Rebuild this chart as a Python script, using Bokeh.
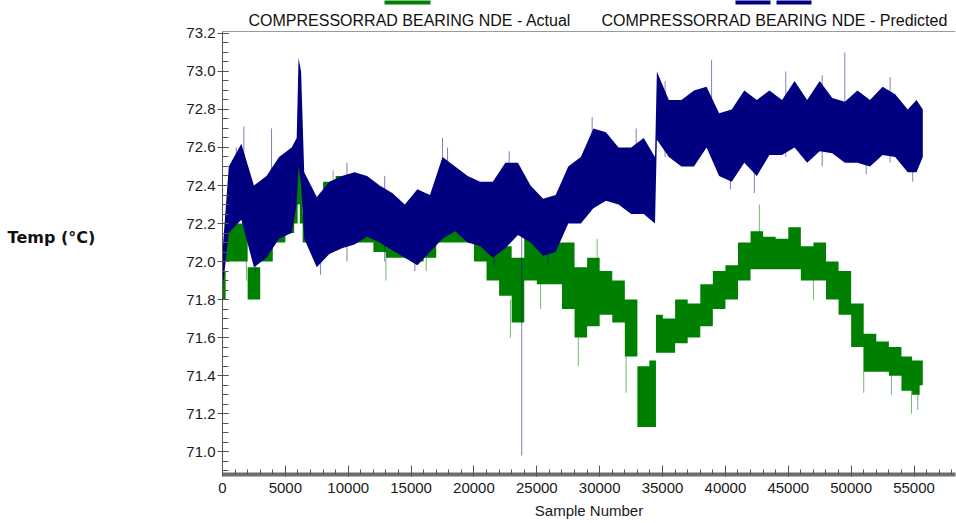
from bokeh.plotting import figure
from bokeh.models import ColumnDataSource, Label, BoxAnnotation, FixedTicker, Range1d, Span
from bokeh.embed import file_html
from bokeh.resources import INLINE
import numpy as np

# ---------------- data ----------------
sample_x = [0, 500, 1500, 2500, 3500, 4500, 5500, 5900, 6050, 6250, 6500, 7500,
            8500, 9500, 10500, 11500, 12500, 13500, 14500, 15500, 16500, 17500,
            18500, 19500, 20500, 21500, 22500, 23500, 24500, 25500, 26500, 27500,
            28500, 29500, 30500, 31500, 32500, 33500, 34400, 34550, 35500, 36500,
            37500, 38500, 39500, 40500, 41500, 42500, 43500, 44500, 45500, 46500,
            47500, 48500, 49500, 50500, 51500, 52500, 53500, 54500, 55200, 55700]

pred_lo = [71.85, 72.15, 72.22, 71.97, 72.02, 72.12, 72.15, 72.30, 72.50, 72.40, 72.12, 71.97,
           72.04, 72.07, 72.09, 72.13, 72.10, 72.06, 72.02, 71.98, 72.05, 72.12,
           72.16, 72.10, 72.08, 72.02, 72.07, 72.14, 72.10, 72.03, 72.05, 72.20,
           72.20, 72.28, 72.32, 72.30, 72.25, 72.25, 72.20, 72.64, 72.55, 72.50,
           72.50, 72.60, 72.45, 72.42, 72.52, 72.45, 72.56, 72.56, 72.60, 72.52,
           72.58, 72.57, 72.52, 72.52, 72.50, 72.56, 72.55, 72.47, 72.47, 72.55]
pred_hi = [72.05, 72.50, 72.62, 72.40, 72.45, 72.55, 72.60, 72.65, 73.07, 73.00, 72.47, 72.34,
           72.42, 72.45, 72.47, 72.45, 72.40, 72.36, 72.30, 72.38, 72.35, 72.55,
           72.50, 72.45, 72.42, 72.42, 72.52, 72.52, 72.40, 72.33, 72.35, 72.50,
           72.55, 72.70, 72.68, 72.60, 72.60, 72.65, 72.55, 73.00, 72.85, 72.85,
           72.90, 72.92, 72.78, 72.80, 72.90, 72.85, 72.90, 72.85, 72.95, 72.85,
           72.95, 72.86, 72.84, 72.90, 72.85, 72.92, 72.88, 72.80, 72.85, 72.80]

act_lo = [71.80, 72.00, 72.00, 71.80, 72.00, 72.10, 72.15, 72.20, 72.30, 72.20, 72.10, 72.10,
          72.20, 72.20, 72.10, 72.10, 72.05, 72.02, 72.02, 72.00, 72.02, 72.10,
          72.10, 72.10, 72.00, 71.90, 71.82, 71.68, 71.90, 71.88, 71.88, 71.75,
          71.60, 71.66, 71.72, 71.68, 71.50, 71.13, 71.13, 71.52, 71.52, 71.57,
          71.60, 71.66, 71.75, 71.80, 71.90, 71.96, 71.96, 71.96, 71.96, 71.90,
          71.90, 71.80, 71.72, 71.55, 71.42, 71.42, 71.40, 71.32, 71.30, 71.35]
act_hi = [71.95, 72.20, 72.20, 71.97, 72.12, 72.25, 72.25, 72.45, 72.71, 72.60, 72.25, 72.20,
          72.42, 72.45, 72.42, 72.25, 72.20, 72.15, 72.15, 72.15, 72.15, 72.30,
          72.30, 72.35, 72.20, 72.15, 72.08, 72.02, 72.15, 72.10, 72.10, 72.10,
          71.97, 72.02, 71.95, 71.90, 71.80, 71.45, 71.48, 71.72, 71.70, 71.80,
          71.78, 71.88, 71.95, 71.98, 72.10, 72.16, 72.13, 72.12, 72.18, 72.08,
          72.10, 72.00, 71.95, 71.78, 71.62, 71.58, 71.55, 71.50, 71.48, 71.48]

pred_spike_x = [1100, 1700, 2650, 3900, 7800, 9900, 12900, 15300, 17500, 17900, 21600, 22800,
                23800, 25900, 29400, 32900, 35200, 38900, 40400, 42300, 44800, 47700,
                49500, 51200, 53100, 54900]
pred_spike_lo = [72.30, 72.30, 71.94, 72.30, 71.93, 72.00, 72.00, 71.95, 72.40, 72.30, 71.98, 72.30,
                 70.98, 71.99, 72.50, 72.40, 72.55, 72.70, 72.38, 72.36, 72.55, 72.50,
                 72.75, 72.46, 72.52, 72.42]
pred_spike_hi = [72.60, 72.71, 72.20, 72.70, 72.20, 72.52, 72.45, 72.20, 72.65, 72.60, 72.20, 72.58,
                 72.20, 72.20, 72.76, 72.70, 72.95, 73.06, 72.60, 72.60, 73.00, 72.98,
                 73.10, 72.70, 72.97, 72.60]

act_spike_x = [1900, 8800, 13000, 16200, 22900, 25300, 28300, 29800, 32100, 42700, 47000,
               51000, 53200, 54800, 55300]
act_spike_lo = [71.90, 72.15, 71.90, 71.95, 71.60, 71.75, 71.45, 71.80, 71.31, 72.10, 71.80,
                71.31, 71.30, 71.20, 71.22]
act_spike_hi = [72.10, 72.48, 72.05, 72.10, 71.80, 71.95, 71.80, 72.12, 71.60, 72.30, 71.95,
                71.60, 71.45, 71.35, 71.35]

y_ticks = [71.0, 71.2, 71.4, 71.6, 71.8, 72.0, 72.2, 72.4, 72.6, 72.8, 73.0, 73.2]
y_labels = ["71.0", "71.2", "71.4", "71.6", "71.8", "72.0", "72.2", "72.4", "72.6", "72.8", "73.0", "73.2"]
x_ticks = [0, 5000, 10000, 15000, 20000, 25000, 30000, 35000, 40000, 45000, 50000, 55000]
x_labels = ["0", "5000", "10000", "15000", "20000", "25000", "30000", "35000", "40000", "45000", "50000", "55000"]

series_names = ["COMPRESSORRAD BEARING NDE - Actual", "COMPRESSORRAD BEARING NDE - Predicted"]
y_title = "Temp (°C)"
x_title = "Sample Number"
act_color = "#008000"
pred_color = "#000080"

# ---------------- figure ----------------
# the frame reaches the top of the canvas so that the legend row (drawn as annotations) is visible;
# the visible plot box starts at 73.21 (canvas y = 31)
Y_LO, Y_BOX = 70.88, 73.21
Y_TOP = Y_BOX + 31 * (Y_BOX - Y_LO) / 443.0
p = figure(width=956, height=523, x_range=Range1d(0, 58300), y_range=Range1d(Y_LO, Y_TOP),
           output_backend="svg", toolbar_location=None,
           min_border_left=222, min_border_right=1, min_border_top=0, min_border_bottom=49)
p.grid.visible = False
p.outline_line_color = None
p.add_layout(Span(location=Y_BOX, dimension="width", line_color="#9a9a9a", line_width=1))

src = ColumnDataSource(dict(x=sample_x, plo=pred_lo, phi=pred_hi, alo=act_lo, ahi=act_hi))

# actual (green)
p.varea_step(x="x", y1="alo", y2="ahi", source=src, step_mode="center", fill_color=act_color, fill_alpha=1.0)
p.segment(x0=act_spike_x, y0=act_spike_lo, x1=act_spike_x, y1=act_spike_hi,
          line_color=act_color, line_alpha=0.55, line_width=1)

# predicted (blue)
p.varea(x="x", y1="plo", y2="phi", source=src, fill_color=pred_color, fill_alpha=1.0)
p.segment(x0=pred_spike_x, y0=pred_spike_lo, x1=pred_spike_x, y1=pred_spike_hi,
          line_color=pred_color, line_alpha=0.5, line_width=1)

# ---------------- axes ----------------
font = "Liberation Sans"
p.yaxis.bounds = (Y_LO, Y_BOX)
p.yaxis.ticker = FixedTicker(ticks=y_ticks, minor_ticks=list(np.round(np.arange(70.90, 73.21, 0.05), 2)))
p.yaxis.major_label_overrides = {t: l for t, l in zip(y_ticks, y_labels)}
p.yaxis.axis_line_color = "#555555"
p.yaxis.major_tick_line_color = "#555555"
p.yaxis.minor_tick_line_color = "#555555"
p.yaxis.major_tick_in = 6
p.yaxis.major_tick_out = 5
p.yaxis.minor_tick_in = 6
p.yaxis.minor_tick_out = 0
p.yaxis.major_label_standoff = 2
p.yaxis.major_label_text_font = font
p.yaxis.major_label_text_font_size = "15px"
p.yaxis.major_label_text_color = "#1a1a1a"
p.yaxis.axis_label = y_title
p.yaxis.axis_label_orientation = "horizontal"
p.yaxis.axis_label_standoff = 88
p.yaxis.axis_label_text_font = "DejaVu Sans"
p.yaxis.axis_label_text_font_style = "bold"
p.yaxis.axis_label_text_font_size = "16px"
p.yaxis.axis_label_text_color = "#111111"

p.xaxis.ticker = FixedTicker(ticks=x_ticks, minor_ticks=list(range(0, 58001, 1000)))
p.xaxis.major_label_overrides = {t: l for t, l in zip(x_ticks, x_labels)}
p.xaxis.axis_line_color = "#6e6e6e"
p.xaxis.axis_line_width = 4
p.xaxis.major_tick_line_color = "#555555"
p.xaxis.minor_tick_line_color = "#555555"
p.xaxis.major_tick_in = 9
p.xaxis.major_tick_out = 2
p.xaxis.minor_tick_in = 5
p.xaxis.minor_tick_out = 0
p.xaxis.major_label_standoff = 6
p.xaxis.major_label_text_font = font
p.xaxis.major_label_text_font_size = "15px"
p.xaxis.major_label_text_color = "#1a1a1a"
p.xaxis.axis_label = x_title
p.xaxis.axis_label_text_font = font
p.xaxis.axis_label_text_font_size = "15px"
p.xaxis.axis_label_text_font_style = "normal"
p.xaxis.axis_label_text_color = "#1a1a1a"
p.xaxis.axis_label_standoff = 6

# ---------------- legend row (screen units, relative to frame) ----------------
FL, FB = 222, 474  # frame left / bottom in canvas pixels

p.add_layout(Label(x=248 - FL, y=FB - 20, x_units="screen", y_units="screen", text=series_names[0],
                   text_font=font, text_font_size="16px", text_baseline="middle", text_color="#111111"))
p.add_layout(Label(x=601 - FL, y=FB - 20, x_units="screen", y_units="screen", text=series_names[1],
                   text_font=font, text_font_size="16px", text_baseline="middle", text_color="#111111"))

for l, r, c in [(384, 430, act_color), (735, 770, pred_color), (776, 811, pred_color)]:
    p.add_layout(BoxAnnotation(left=l - FL, right=r - FL, top=FB + 2, bottom=FB - 4,
                               left_units="screen", right_units="screen",
                               top_units="screen", bottom_units="screen",
                               fill_color=c, fill_alpha=1.0, line_color=None))

open("out.html", "w").write(file_html(p, INLINE))
